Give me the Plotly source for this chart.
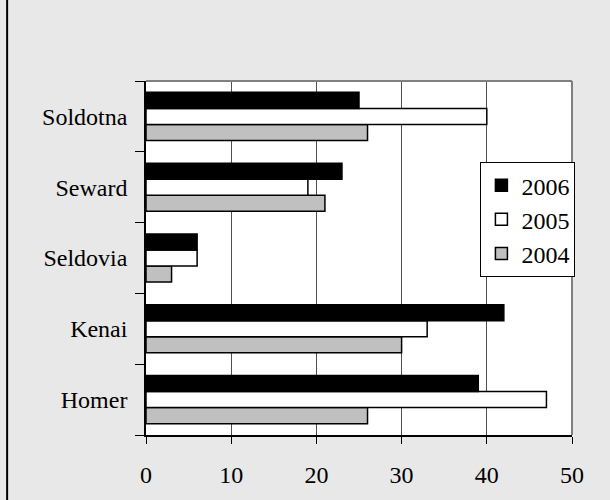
import plotly.graph_objects as go

# data
towns = ["Homer", "Kenai", "Seldovia", "Seward", "Soldotna"]
y2004 = [26, 30, 3, 21, 26]
y2005 = [47, 33, 6, 19, 40]
y2006 = [39, 42, 6, 23, 25]

serif = "Liberation Serif"

fig = go.Figure()

# first trace ends up at the bottom of each group, so 2004 goes first
fig.add_trace(go.Bar(y=towns, x=y2004, name="2004", orientation="h",
                     marker=dict(color="#C0C0C0", line=dict(color="black", width=1.5))))
fig.add_trace(go.Bar(y=towns, x=y2005, name="2005", orientation="h",
                     marker=dict(color="white", line=dict(color="black", width=1.5))))
fig.add_trace(go.Bar(y=towns, x=y2006, name="2006", orientation="h",
                     marker=dict(color="black", line=dict(color="black", width=1.5))))

fig.update_layout(
    width=610, height=500,
    margin=dict(l=146, r=38, t=81, b=65),
    paper_bgcolor="#E8E8E8",
    plot_bgcolor="white",
    font=dict(family=serif, size=24, color="black"),
    barmode="group",
    bargap=0.32,
    bargroupgap=0,
    legend=dict(
        x=0.785, y=0.771, xanchor="left", yanchor="top",
        traceorder="reversed",
        bgcolor="white", bordercolor="black", borderwidth=1,
        font=dict(family=serif, size=24),
    ),
    xaxis=dict(
        range=[0, 50], dtick=10,
        showgrid=True, gridcolor="#505050", gridwidth=1,
        zeroline=False,
        showline=True, linecolor="black", linewidth=1.5,
        ticks="outside", ticklen=7, tickcolor="black",
        ticklabelstandoff=10,
        tickfont=dict(family=serif, size=24),
    ),
    yaxis=dict(
        showgrid=False,
        showline=True, linecolor="black", linewidth=1.5,
        ticks="outside", ticklen=9, tickcolor="black",
        tickson="boundaries",
        ticklabelstandoff=12,
        tickfont=dict(family=serif, size=24),
    ),
    shapes=[
        # grey top and right edge of the plot area
        dict(type="line", xref="paper", yref="paper", x0=0, x1=1, y0=1, y1=1,
             line=dict(color="#808080", width=2)),
        dict(type="line", xref="paper", yref="paper", x0=1, x1=1, y0=0, y1=1,
             line=dict(color="#808080", width=2)),
        # left frame line of the original picture
        dict(type="line", xref="paper", yref="paper", x0=-0.326, x1=-0.326, y0=-0.2, y1=1.25,
             line=dict(color="black", width=2)),
    ],
)

# drop the default body margin so the figure sits at the page corner
fig.write_html("out.html",
               config={"displayModeBar": False},
               post_script="document.body.style.margin='0';document.body.style.background='#E8E8E8';")
